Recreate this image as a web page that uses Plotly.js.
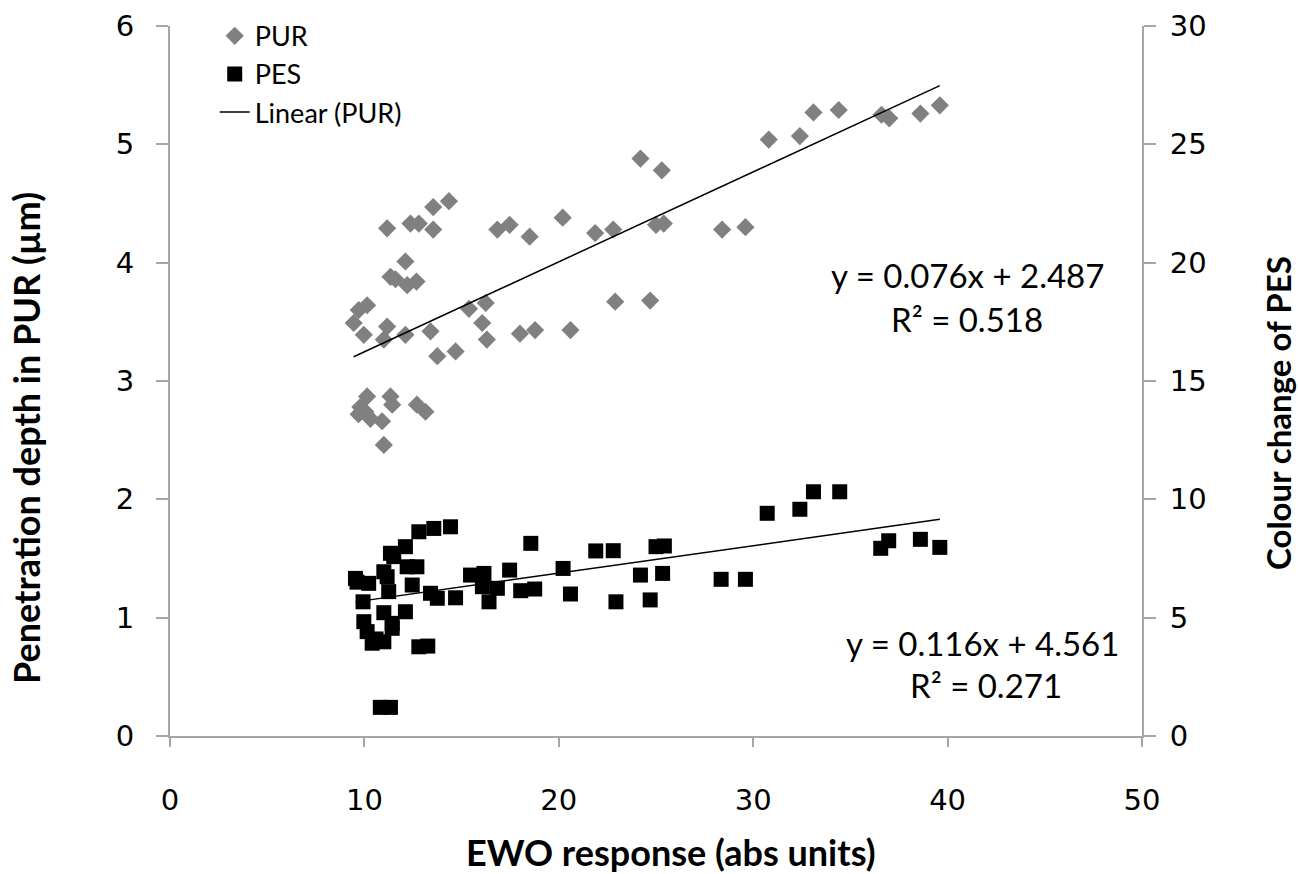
<!DOCTYPE html>
<html>
<head>
<meta charset="utf-8">
<script src="https://cdn.plot.ly/plotly-3.0.1.min.js"></script>
<style>html,body{margin:0;padding:0;background:#fff;}#chart{width:1298px;height:874px;}</style>
</head>
<body>
<div id="chart"></div>
<script>
// PUR: EWO response (x) vs penetration depth in PUR (left axis, µm)
const purX = [9.45, 9.71, 10.14, 9.97, 11.17, 11.0, 12.11, 13.4, 13.75, 14.69, 15.38, 16.06, 16.3, 16.24, 18.0, 18.78, 20.6, 22.9, 24.7,
  11.17, 12.37, 12.8, 13.54, 13.54, 14.35, 12.11, 11.34, 11.6, 12.2, 12.68, 16.84, 17.47, 18.5, 20.2, 21.87, 22.8,
  24.2, 25.3, 25.0, 25.4, 28.4, 29.6, 30.8, 32.4, 33.1, 34.4, 36.6, 37.0, 38.6, 39.6,
  10.14, 9.79, 10.05, 10.31, 10.91, 11.34, 11.43, 12.7, 13.14, 11.0, 9.7];
const purY = [3.49, 3.60, 3.64, 3.39, 3.46, 3.35, 3.39, 3.42, 3.21, 3.25, 3.61, 3.49, 3.35, 3.66, 3.40, 3.43, 3.43, 3.67, 3.68,
  4.29, 4.33, 4.33, 4.28, 4.47, 4.52, 4.01, 3.88, 3.86, 3.81, 3.84, 4.28, 4.32, 4.22, 4.38, 4.25, 4.28,
  4.88, 4.78, 4.32, 4.33, 4.28, 4.30, 5.04, 5.07, 5.27, 5.29, 5.25, 5.22, 5.26, 5.33,
  2.87, 2.78, 2.74, 2.68, 2.66, 2.87, 2.80, 2.80, 2.74, 2.46, 2.72];

// PES: EWO response (x) vs colour change of PES (right axis)
const pesX = [9.54, 9.62, 10.22, 11.17, 11.0, 11.25, 9.93, 9.97, 10.14, 10.4, 11.0, 11.43, 11.0, 11.43, 12.11, 12.8, 13.26,
  10.82, 11.34, 11.34, 11.51, 12.11, 12.8, 13.57, 14.43, 12.2, 12.7, 12.46, 13.4, 13.75, 14.69, 15.46, 16.15, 16.07,
  16.84, 16.41, 17.47, 18.04, 18.76, 18.56, 20.22, 20.6, 21.9, 22.8, 22.94, 24.2, 24.7, 25.0, 25.43, 25.34,
  28.35, 29.6, 30.72, 32.4, 33.1, 34.45, 36.56, 36.97, 38.6, 39.6, 10.6];
const pesY = [6.66, 6.50, 6.45, 6.73, 6.94, 6.10, 5.67, 4.83, 4.41, 3.92, 3.98, 4.55, 5.21, 4.76, 5.25, 3.77, 3.80,
  1.21, 1.21, 7.72, 7.58, 8.00, 8.63, 8.77, 8.84, 7.15, 7.15, 6.38, 6.03, 5.82, 5.84, 6.80, 6.87, 6.31,
  6.24, 5.67, 7.01, 6.14, 6.21, 8.14, 7.08, 6.00, 7.82, 7.83, 5.67, 6.80, 5.75, 8.00, 8.03, 6.87,
  6.62, 6.62, 9.41, 9.58, 10.32, 10.32, 7.93, 8.25, 8.31, 7.97, 4.10];

// Trendline equations shown on the chart
const purFit = {slope: 0.076, intercept: 2.487, r2: 0.518};
const pesFit = {slope: 0.116, intercept: 4.561, r2: 0.271};

const xTicks = [0, 10, 20, 30, 40, 50];
const yLeftTicks = [0, 1, 2, 3, 4, 5, 6];
const yRightTicks = [0, 5, 10, 15, 20, 25, 30];

function fitLine(xs, fit) {
  const lo = Math.min(...xs), hi = Math.max(...xs);
  return {x: [lo, hi], y: [fit.slope * lo + fit.intercept, fit.slope * hi + fit.intercept]};
}
const purLine = fitLine(purX, purFit);
const pesLine = fitLine(pesX, pesFit);

const axisGrey = '#a6a6a6';
const tickFont = {family: 'DejaVu Sans', size: 29, color: '#000'};
const textFont = 'Lato, "Open Sans", sans-serif';

const traces = [
  {x: purX, y: purY, type: 'scatter', mode: 'markers', name: 'PUR', yaxis: 'y',
   marker: {symbol: 'diamond', size: 14, color: '#808080', line: {width: 0}}},
  {x: pesX, y: pesY, type: 'scatter', mode: 'markers', name: 'PES', yaxis: 'y2',
   marker: {symbol: 'square', size: 15, color: '#000000', line: {width: 0}}},
  {x: purLine.x, y: purLine.y, type: 'scatter', mode: 'lines', name: 'Linear (PUR)', yaxis: 'y',
   line: {color: '#000', width: 1.5}},
  {x: pesLine.x, y: pesLine.y, type: 'scatter', mode: 'lines', name: 'Linear (PES)', yaxis: 'y2',
   showlegend: false, line: {color: '#000', width: 1.5}}
];

const fmt = v => v.toFixed(3);
const eqFont = {family: textFont, size: 33, color: '#000'};
const titleFont = {family: textFont, size: 36, color: '#000'};
const layout = {
  width: 1298, height: 874,
  margin: {l: 170, r: 156, t: 26, b: 138},
  paper_bgcolor: '#fff', plot_bgcolor: '#fff',
  showlegend: true,
  legend: {x: 0.046, y: 1.02, xanchor: 'left', yanchor: 'top', bgcolor: 'rgba(0,0,0,0)',
           font: {family: textFont, size: 27, color: '#000'}, tracegroupgap: 0, itemwidth: 30},
  xaxis: {range: [0, 50], tickvals: xTicks, ticktext: xTicks.map(String), showgrid: false, zeroline: false,
          showline: true, linecolor: axisGrey, linewidth: 2, ticks: 'outside', ticklen: 9, tickwidth: 2, tickcolor: axisGrey,
          tickfont: tickFont, ticklabelstandoff: 28},
  yaxis: {range: [0, 6], tickvals: yLeftTicks, ticktext: yLeftTicks.map(String), showgrid: false, zeroline: false,
          showline: true, linecolor: axisGrey, linewidth: 2, ticks: 'outside', ticklen: 12, tickwidth: 2, tickcolor: axisGrey,
          tickfont: tickFont, ticklabelstandoff: 16},
  yaxis2: {range: [0, 30], overlaying: 'y', side: 'right', tickvals: yRightTicks, ticktext: yRightTicks.map(String),
           showgrid: false, zeroline: false, showline: true, linecolor: axisGrey, linewidth: 2, ticks: 'outside',
           ticklen: 12, tickwidth: 2, tickcolor: axisGrey, tickfont: tickFont, ticklabelstandoff: 8},
  annotations: [
    {text: '<b>EWO response (abs units)</b>', xref: 'paper', yref: 'paper', x: 0.515, y: -0.163,
     xanchor: 'center', yanchor: 'middle', showarrow: false, font: titleFont},
    {text: '<b>Penetration depth in PUR (µm)</b>', xref: 'paper', yref: 'paper', x: -0.148, y: 0.42,
     xanchor: 'center', yanchor: 'middle', textangle: -90, showarrow: false, font: titleFont},
    {text: '<b>Colour change of PES</b>', xref: 'paper', yref: 'paper', x: 1.14, y: 0.455,
     xanchor: 'center', yanchor: 'middle', textangle: -90, showarrow: false, font: {family: textFont, size: 33, color: '#000'}},
    {text: 'y = ' + fmt(purFit.slope) + 'x + ' + fmt(purFit.intercept), xref: 'x', yref: 'y', x: 41.0, y: 3.9,
     xanchor: 'center', yanchor: 'middle', showarrow: false, font: eqFont},
    {text: 'R² = ' + fmt(purFit.r2), xref: 'x', yref: 'y', x: 41.0, y: 3.52,
     xanchor: 'center', yanchor: 'middle', showarrow: false, font: eqFont},
    {text: 'y = ' + fmt(pesFit.slope) + 'x + ' + fmt(pesFit.intercept), xref: 'x', yref: 'y', x: 41.8, y: 0.79,
     xanchor: 'center', yanchor: 'middle', showarrow: false, font: eqFont},
    {text: 'R² = ' + fmt(pesFit.r2), xref: 'x', yref: 'y', x: 42.0, y: 0.43,
     xanchor: 'center', yanchor: 'middle', showarrow: false, font: eqFont}
  ]
};

Plotly.newPlot('chart', traces, layout, {displayModeBar: false, staticPlot: true});
</script>
</body>
</html>
